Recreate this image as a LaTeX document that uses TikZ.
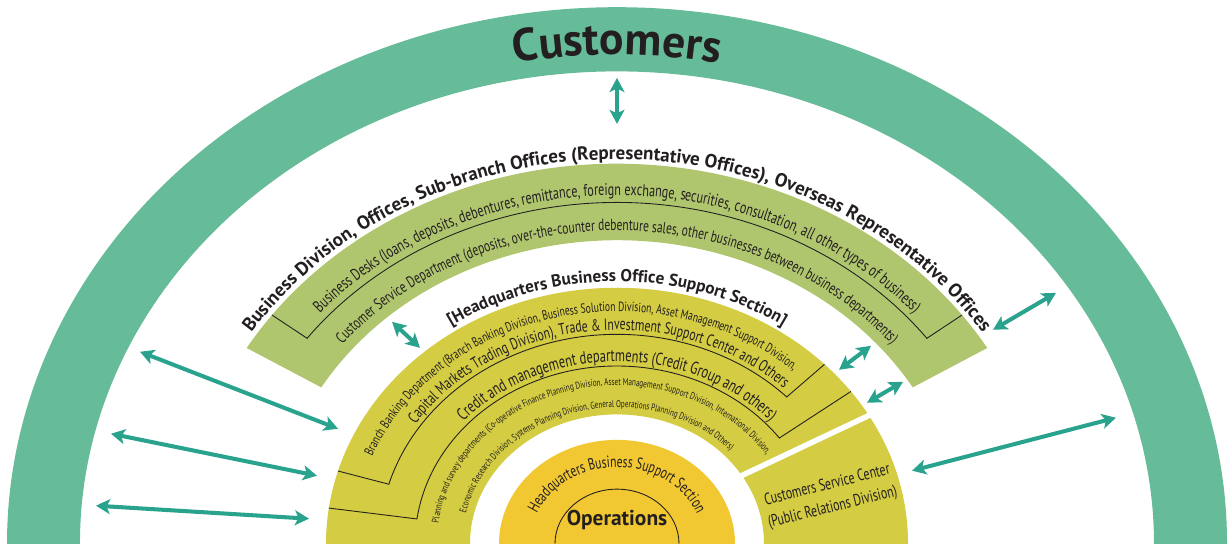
\documentclass[tikz,border=0pt]{standalone}
\usepackage{fontspec}
\setmainfont{PT Sans}
\newfontfamily\condfont[FakeStretch=0.72]{PT Sans}
\usetikzlibrary{arrows.meta,decorations.text}
\definecolor{ringteal}{RGB}{102,188,153}
\definecolor{bandgreen}{RGB}{176,198,110}
\definecolor{bandolive}{RGB}{212,204,66}
\definecolor{coreyellow}{RGB}{242,200,50}
\definecolor{linkteal}{RGB}{42,163,142}
\definecolor{ink}{RGB}{35,31,32}
\begin{document}
\begin{tikzpicture}[x=0.02cm, y=0.0176cm,
	link/.style={<->, >={Stealth[length=8pt, width=8.5pt, inset=2pt]}, line width=2.3pt, linkteal},
	bracket/.style={ink, line width=0.5pt},
	gap/.style={white, line width=0.11cm}]
	\useasboundingbox (-617,0) rectangle (611,618.18);
	\def\arctext#1#2#3#4#5{\path[decorate, decoration={text along path, text align=#4, text={#5}}] (#1:#3) arc[start angle=#1, end angle=#2, radius=#3];}
	% rings
	\fill[ringteal] (-5:610) arc[start angle=-5, end angle=185, radius=610] -- (185:537) arc[start angle=185, end angle=-5, radius=537] -- cycle;
	\fill[bandgreen] (31:432) arc[start angle=31, end angle=149, radius=432] -- (149:345) arc[start angle=149, end angle=31, radius=345] -- cycle;
	\fill[bandolive] (-5:291) arc[start angle=-5, end angle=185, radius=291] -- (185:147) arc[start angle=185, end angle=-5, radius=147] -- cycle;
	\draw[gap] (32:140) -- (30:300);
	\fill[coreyellow] (-5:118) arc[start angle=-5, end angle=185, radius=118] -- cycle;
	\draw[bracket] (0:62) arc[start angle=0, end angle=180, radius=62];
	% brackets
	\draw[bracket] (143:432) -- (143:388) arc[start angle=143, end angle=37, radius=388] -- (37:432);
	\draw[bracket] (163.5:291) -- (163.5:238) arc[start angle=163.5, end angle=44.5, radius=238] -- (44.5:291);
	\draw[bracket] (172:291) -- (172:202) arc[start angle=172, end angle=36.5, radius=202] -- (36.5:291);
	% texts
	\arctext{120}{60}{556}{center}{|\bfseries\fontsize{26}{26}\selectfont\color{ink}|Customers}
	\arctext{170}{10}{437}{center}{|\bfseries\fontsize{10.8}{11}\selectfont\color{ink}|Business Division, Offices, Sub-branch Offices (Representative Offices), Overseas Representative Offices}
	\arctext{170}{10}{396}{center}{|\condfont\fontsize{9.6}{10}\selectfont\color{ink}|Business Desks (loans, deposits, debentures, remittance, foreign exchange, securities, consultation, all other types of business)}
	\arctext{170}{10}{356}{center}{|\condfont\fontsize{9.1}{10}\selectfont\color{ink}|Customer Service Department (deposits, over-the-counter debenture sales, other businesses between business departments)}
	\arctext{150}{30}{298}{center}{|\bfseries\fontsize{9.8}{10}\selectfont\color{ink}|[Headquarters Business Office Support Section]}
	\arctext{158}{15}{264}{left}{|\condfont\fontsize{7.6}{8}\selectfont\color{ink}|Branch Banking Department (Branch Banking Division, Business Solution Division, Asset Management Support Division,}
	\arctext{146}{15}{243}{left}{|\condfont\fontsize{9.3}{10}\selectfont\color{ink}|Capital Markets Trading Division), Trade {\&} Investment Support Center and Others}
	\arctext{165}{15}{207}{center}{|\condfont\fontsize{9.9}{10}\selectfont\color{ink}|Credit and management departments (Credit Group and others)}
	\arctext{172.5}{5}{180}{left}{|\condfont\fontsize{5.7}{6}\selectfont\color{ink}|Planning and survey departments (Co-operative Finance Planning Division, Asset Management Support Division, International Division,}
	\arctext{167}{5}{155}{left}{|\condfont\fontsize{5.6}{6}\selectfont\color{ink}|Economic Research Division, Systems Planning Division, General Operations Planning Division and Others)}
	\arctext{178}{2}{87}{center}{|\condfont\fontsize{9.2}{10}\selectfont\color{ink}|Headquarters Business Support Section}
	\node[rotate=14, align=center, font=\condfont\fontsize{9.4}{13}\selectfont, text=ink] (csc) at (213,53.4) {Customers Service Center\\(Public Relations Division)};
	\node[font=\bfseries\fontsize{12.2}{13}\selectfont, text=ink, anchor=base] (ops) at (0,20.5) {Operations};
	% arrows
	\foreach \n/\x/\y in {cust1/0/529.5, biz1/0/477.3, cust2/-477/218.2, hq2/-279/130.7, cust3/-506/125, hq3/-300/77.3, cust4/-521/43.2, hq4/-308/28.4,
		biz5/376/243.2, cust5/439/285.2, csc6/295/83, cust6/499/143.2, biz7/-225/252.3, hq7/-197/222.7, hq8/222/197.7, biz8/254/225, hq9/250/160.2, biz9/286/184.1}
	\coordinate (\n) at (\x,\y);
	\foreach \a/\b in {cust1/biz1, cust2/hq2, cust3/hq3, cust4/hq4, biz5/cust5, csc6/cust6, biz7/hq7, hq8/biz8, hq9/biz9}
	\draw[link] (\a) -- (\b);
\end{tikzpicture}
\end{document}
